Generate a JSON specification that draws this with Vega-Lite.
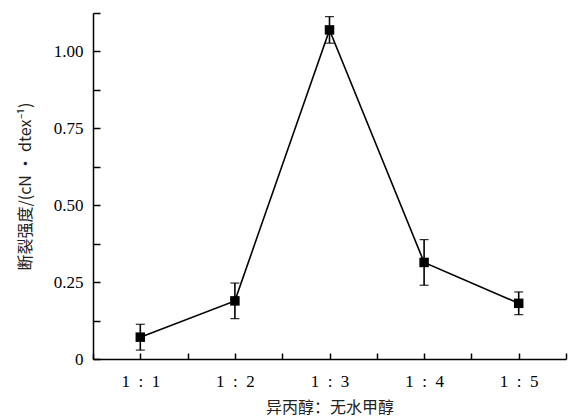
{
  "$schema": "https://vega.github.io/schema/vega-lite/v6.json",
  "width": 473,
  "height": 346,
  "autosize": {"type": "none"},
  "padding": {"left": 93, "top": 13, "right": 3, "bottom": 57},
  "background": "white",
  "config": {
    "view": {"stroke": null},
    "axis": {
      "domainColor": "black", "domainWidth": 1.5, "tickColor": "black", "tickWidth": 1.5,
      "grid": false, "labelFont": "Liberation Serif", "labelFontSize": 17, "labelColor": "black",
      "titleColor": "#222", "titleFontWeight": "normal"
    }
  },
  "data": {
    "values": [
      {"ratio": "1 : 1", "n": 1, "strength": 0.071, "err": 0.042},
      {"ratio": "1 : 2", "n": 2, "strength": 0.189, "err": 0.058},
      {"ratio": "1 : 3", "n": 3, "strength": 1.070, "err": 0.043},
      {"ratio": "1 : 4", "n": 4, "strength": 0.314, "err": 0.074},
      {"ratio": "1 : 5", "n": 5, "strength": 0.181, "err": 0.037}
    ]
  },
  "resolve": {"axis": {"x": "independent", "y": "independent"}},
  "layer": [
    {
      "mark": {"type": "line", "color": "black", "strokeWidth": 1.6},
      "encoding": {
        "x": {
          "field": "n", "type": "quantitative",
          "scale": {"domain": [0.5, 5.5], "nice": false, "zero": false},
          "axis": {
            "orient": "bottom",
            "values": [1, 2, 3, 4, 5],
            "labelExpr": "'1\u2002:\u2002' + datum.value",
            "ticks": false, "labelPadding": 14, "labelFlush": false, "labelOverlap": false,
            "title": "异丙醇：无水甲醇", "titleFont": "Noto Sans CJK SC", "titleFontSize": 16,
            "titlePadding": 10
          }
        },
        "y": {
          "field": "strength", "type": "quantitative",
          "scale": {"domain": [0, 1.125], "nice": false},
          "axis": {
            "orient": "left",
            "values": [0, 0.25, 0.5, 0.75, 1],
            "labelExpr": "datum.value == 0 ? '0' : format(datum.value, '.2f')",
            "ticks": false, "labelPadding": 10, "labelFlush": false, "labelOverlap": false,
            "title": "断裂强度/(cN · dtex⁻¹)", "titleFont": "Noto Sans CJK SC", "titleFontSize": 16,
            "titlePadding": 20
          }
        }
      }
    },
    {
      "mark": {"type": "errorbar", "color": "black", "ticks": {"size": 9, "color": "black", "strokeWidth": 1.6, "opacity": 1}, "rule": {"color": "black", "strokeWidth": 1.6, "opacity": 1}},
      "encoding": {
        "x": {"field": "n", "type": "quantitative", "axis": null},
        "y": {"field": "strength", "type": "quantitative", "axis": null},
        "yError": {"field": "err"}
      }
    },
    {
      "mark": {"type": "square", "size": 90, "color": "black", "filled": true, "opacity": 1},
      "encoding": {
        "x": {
          "field": "n", "type": "quantitative",
          "axis": {
            "orient": "bottom", "offset": -6, "tickSize": 6, "domain": false, "labels": false, "title": null,
            "values": [0.5, 1, 1.5, 2, 2.5, 3, 3.5, 4, 4.5, 5, 5.5]
          }
        },
        "y": {
          "field": "strength", "type": "quantitative",
          "axis": {
            "orient": "left", "offset": -7, "tickSize": 7, "domain": false, "labels": false, "title": null,
            "values": [0, 0.125, 0.25, 0.375, 0.5, 0.625, 0.75, 0.875, 1, 1.125]
          }
        }
      }
    }
  ]
}
